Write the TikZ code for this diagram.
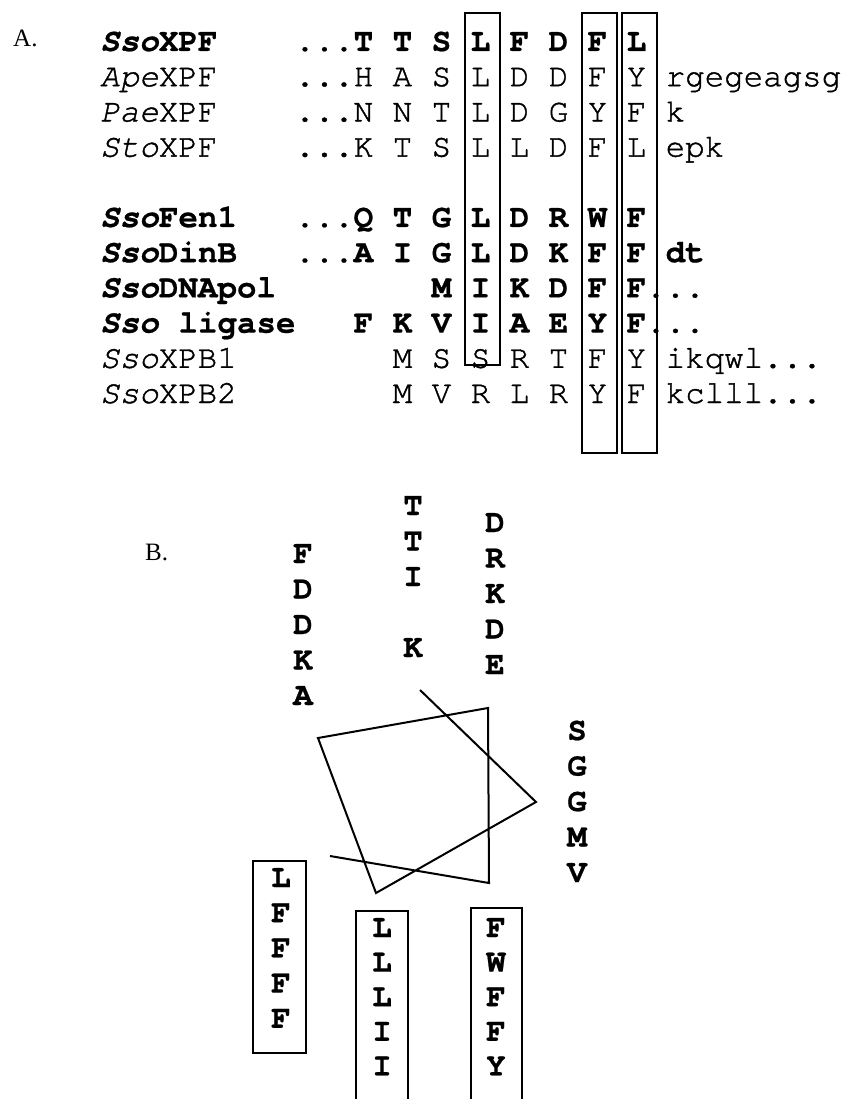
\documentclass[tikz,border=0pt]{standalone}
\usepackage{fontspec}
\setmainfont{Liberation Serif}
\setmonofont[UprightFeatures={FakeBold=1.2},ItalicFeatures={FakeBold=1.2},BoldFeatures={FakeBold=0.6},BoldItalicFeatures={FakeBold=0.6}]{TeX Gyre Cursor}
\tikzset{
  seq/.style={font=\ttfamily\fontsize{32.5}{35}\selectfont, anchor=base west, inner sep=0pt},
  seqb/.style={font=\ttfamily\bfseries\fontsize{32.5}{35}\selectfont, anchor=base west, inner sep=0pt},
  wheel/.style={font=\ttfamily\bfseries\fontsize{32.5}{35}\selectfont, anchor=base, inner sep=0pt},
  panel/.style={font=\rmfamily\fontsize{25}{30}\selectfont, anchor=base west, inner sep=0pt},
  colbox/.style={draw, line width=1.8pt},
  helix/.style={line width=2pt}
}
\begin{document}
\frenchspacing
\begin{tikzpicture}[x=1pt,y=-1pt]
\fill[white] (0,0) rectangle (848,1099);
\useasboundingbox (0,0) rectangle (848,1099);

% ---------- Panel A ----------
\node[panel] (pa) at (13,47) {A.};

\node[seqb] (l1) at (100,51) {\textit{Sso}XPF};
\node[seqb] (s1) at (295,51) {...T T S L F D F L};
\node[seq] (l2) at (100,86.2) {\textit{Ape}XPF};
\node[seq] (s2) at (295,86.2) {...H A S L D D F Y rgegeagsg};
\node[seq] (l3) at (100,121.4) {\textit{Pae}XPF};
\node[seq] (s3) at (295,121.4) {...N N T L D G Y F k};
\node[seq] (l4) at (100,156.6) {\textit{Sto}XPF};
\node[seq] (s4) at (295,156.6) {...K T S L L D F L epk};

\node[seqb] (l5) at (100,227) {\textit{Sso}Fen1};
\node[seqb] (s5) at (295,227) {...Q T G L D R W F};
\node[seqb] (l6) at (100,262.2) {\textit{Sso}DinB};
\node[seqb] (s6) at (295,262.2) {...A I G L D K F F dt};
\node[seqb] (l7) at (100,297.4) {\textit{Sso}DNApol};
\node[seqb] (s7) at (431.5,297.4) {M I K D F F...};
\node[seqb] (l8) at (100,332.6) {\textit{Sso} ligase};
\node[seqb] (s8) at (353.5,332.6) {F K V I A E Y F...};
\node[seq] (l9) at (100,367.8) {\textit{Sso}XPB1};
\node[seq] (s9) at (392.5,367.8) {M S S R T F Y ikqwl...};
\node[seq] (l10) at (100,403) {\textit{Sso}XPB2};
\node[seq] (s10) at (392.5,403) {M V R L R Y F kclll...};

\draw[colbox] (465,13) rectangle (500,365);
\draw[colbox] (582,13) rectangle (617,453);
\draw[colbox] (622,13) rectangle (657,453);

% ---------- Panel B ----------
\node[panel] (pb) at (145,560) {B.};

\foreach \ch [count=\i] in {F,D,D,K,A}
  \node[wheel] (ca-\i) at (303,{563+35.5*(\i-1)}) {\ch};
\node[wheel] (cb-1) at (413,515) {T};
\node[wheel] (cb-2) at (413,550.5) {T};
\node[wheel] (cb-3) at (413,586) {I};
\node[wheel] (cb-5) at (413,657) {K};
\foreach \ch [count=\i] in {D,R,K,D,E}
  \node[wheel] (cc-\i) at (495,{532+35.5*(\i-1)}) {\ch};
\foreach \ch [count=\i] in {S,G,G,M,V}
  \node[wheel] (cd-\i) at (577,{740+35.5*(\i-1)}) {\ch};

\foreach \ch [count=\i] in {L,F,F,F,F}
  \node[wheel] (ba-\i) at (281,{887+35.2*(\i-1)}) {\ch};
\foreach \ch [count=\i] in {L,L,L,I,I}
  \node[wheel] (bb-\i) at (382,{937+34.6*(\i-1)}) {\ch};
\foreach \ch [count=\i] in {F,W,F,F,Y}
  \node[wheel] (bc-\i) at (496,{937+34.6*(\i-1)}) {\ch};

\draw[colbox] (253,861) rectangle (306,1053);
\begin{scope}
  \clip (0,0) rectangle (848,1099);
  \draw[colbox] (356,1110) -- (356,911) -- (408,911) -- (408,1110);
  \draw[colbox] (471,1110) -- (471,908) -- (522,908) -- (522,1110);
\end{scope}

\coordinate (h0) at (420,690);
\coordinate (h1) at (536,802);
\coordinate (h2) at (376,893);
\coordinate (h3) at (318,738);
\coordinate (h4) at (488,708);
\coordinate (h5) at (489,883);
\coordinate (h6) at (330,856);
\draw[helix] (h0) -- (h1) -- (h2) -- (h3) -- (h4) -- (h5) -- (h6);
\end{tikzpicture}
\end{document}
